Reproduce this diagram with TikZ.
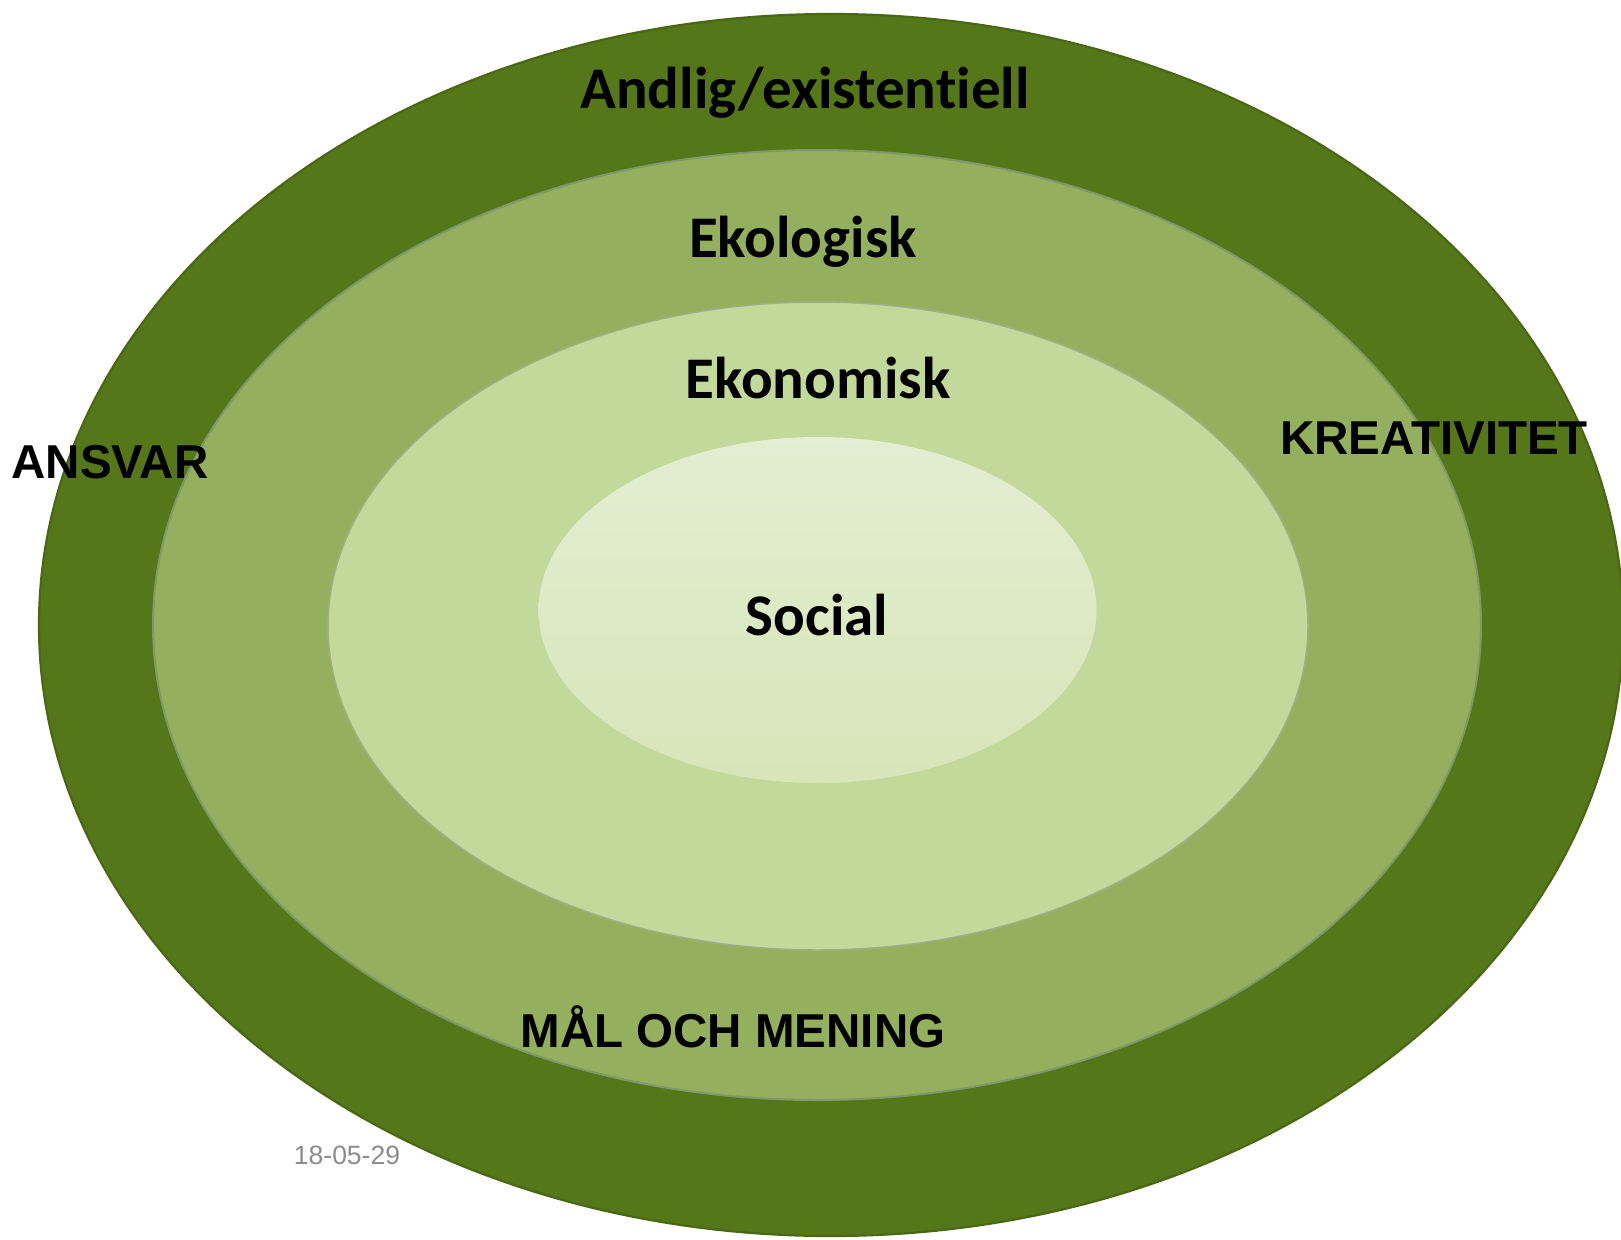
\documentclass[tikz,border=0pt]{standalone}
\usepackage{fontspec}
\setmainfont{Carlito}
\newfontfamily\arialf{Liberation Sans}
\newfontfamily\calf[Ligatures=NoCommon]{Carlito}
\definecolor{ringA}{HTML}{56761A}
\definecolor{ringAedge}{HTML}{4A6814}
\definecolor{ringB}{HTML}{94AF5E}
\definecolor{ringBedge}{HTML}{7F9868}
\definecolor{ringC}{HTML}{C3D99B}
\definecolor{ringCedge}{HTML}{9EB083}
\definecolor{coreTop}{HTML}{E3EED2}
\definecolor{coreBot}{HTML}{D6E6B8}
\definecolor{dategray}{HTML}{8C8C8C}
\tikzset{
  x=1pt, y=-1pt,
  ringlabel/.style={font=\calf\bfseries\fontsize{59}{64}\selectfont, text=black, inner sep=0pt},
  caplabel/.style={font=\arialf\bfseries\fontsize{47.5}{54}\selectfont, text=black, inner sep=0pt},
  datelabel/.style={font=\arialf\fontsize{26.5}{30}\selectfont, text=dategray, inner sep=0pt}
}
\begin{document}
\begin{tikzpicture}
\useasboundingbox (0,0) rectangle (1621,1239);
\begin{scope}
\clip (0,0) rectangle (1621,1239);
\fill[white] (0,0) rectangle (1621,1239);
\draw[ringAedge, fill=ringA, line width=2.2pt] (831,625) ellipse [x radius=792, y radius=611];
\draw[ringBedge, fill=ringB, line width=2pt] (817,625) ellipse [x radius=664, y radius=475];
\draw[ringCedge, fill=ringC, line width=1.5pt] (818,626) ellipse [x radius=490, y radius=324];
\shade[top color=coreTop, bottom color=coreBot] (817.5,610) ellipse [x radius=279, y radius=173];
\end{scope}
\node[ringlabel] (andlig) at (805,93) {Andlig/existentiell};
\node[ringlabel] (ekol) at (803,242) {Ekologisk};
\node[ringlabel] (ekon) at (818,378) {Ekonomisk};
\node[ringlabel] (social) at (817,615) {Social};
\node[caplabel] (ansvar) at (110,462) {ANSVAR};
\node[caplabel] (kreat) at (1434,438) {KREATIVITET};
\node[caplabel] (mal) at (733,1027) {MÅL OCH MENING};
\node[datelabel] (date) at (347,1155) {18-05-29};
\end{tikzpicture}
\end{document}
